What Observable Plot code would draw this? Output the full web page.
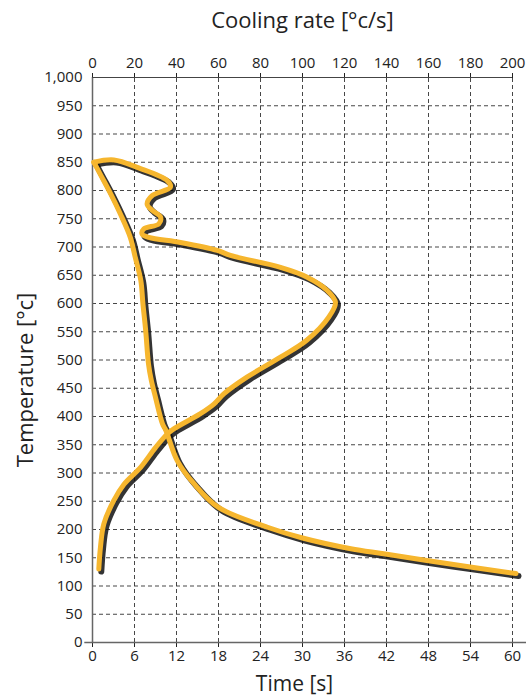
<!DOCTYPE html>
<html><head><meta charset="utf-8">
<script src="https://cdn.jsdelivr.net/npm/d3@7"></script>
<script src="https://cdn.jsdelivr.net/npm/@observablehq/plot@0.6"></script>
<style>
body{margin:0;background:#fff;font-family:"Open Sans",sans-serif;}
</style></head><body><div id="chart"></div>
<script>
const timeS    = [0.2,1.1,2.6,4.0,5.4,6.1,6.9,7.2,7.6,8.0,8.4,9.0,10.0,10.5,12.1,14.5,18,25,30,36.9,41.6,51.1,60.5];
const timeTemp = [850,829,794,758,717,682,641,600,552,493,464,434,387,375,322,281,239,204,185,166,157,139,122];
const coolRate = [0.6,10.2,22,35.5,37.1,28.4,26,28.4,32.4,31.6,24.4,23.6,26.8,41.9,59.4,65.7,89.5,102,111.8,115.7,112.5,102,89.5,73.7,62.5,57.8,51.4,38.7,35.6,30,22.9,15,10.1,5.4,3.8,3.0];
const coolTemp = [850,854,840,818,806,791,776,765,753,741,732,723,717,708,694,685,664,647,623,602,576,535,505,470,440,422,405,378,369,345,310,280,251,210,169,130];
const timeTicks = [0,6,12,18,24,30,36,42,48,54,60];
const rateTicks = [0,20,40,60,80,100,120,140,160,180,200];
const tempTicks = d3.range(0,1001,50);
const rateMax = 200, timeMax = 60;

const timeData = timeS.map((t,i)=>({x:t,y:timeTemp[i]}));
const coolData = coolRate.map((r,i)=>({x:r*timeMax/rateMax,y:coolTemp[i]}));
const yellow = "#F6B62E";
const plot = Plot.plot({
  width:526, height:699,
  marginLeft:92, marginRight:14, marginTop:77, marginBottom:57,
  style:{fontFamily:"Open Sans, sans-serif", fontSize:"15px", color:"#222", background:"#fff"},
  x:{domain:[0,60]},
  y:{domain:[0,1000]},
  marks:[
    Plot.gridX(timeTicks,{stroke:"#333",strokeOpacity:0.9,strokeDasharray:"4,3",y1:0,y2:1000}),
    Plot.gridY(tempTicks,{stroke:"#333",strokeOpacity:0.9,strokeDasharray:"4,3"}),
    Plot.axisX(timeTicks,{anchor:"bottom",tickSize:5,tickPadding:3,label:null,fontSize:15}),
    Plot.axisX(timeTicks,{anchor:"top",tickSize:5,tickPadding:5,label:null,fontSize:15,tickFormat:(d,i)=>String(rateTicks[i])}),
    Plot.axisY(tempTicks,{anchor:"left",tickSize:0,tickPadding:10,label:null,fontSize:15,tickFormat:d3.format(",")}),
    Plot.ruleX([0],{stroke:"#666",strokeWidth:1.5}),
    Plot.ruleY([0],{stroke:"#666",strokeWidth:1.5,x1:-1.1,x2:62}),
    Plot.ruleY([1000],{stroke:"#444",strokeWidth:1}),
    Plot.line(timeData,{x:"x",y:"y",curve:"catmull-rom",stroke:"#111",strokeWidth:6,dx:2.5,dy:2.5,strokeOpacity:0.85}),
    Plot.line(coolData,{x:"x",y:"y",curve:"catmull-rom",stroke:"#111",strokeWidth:6,dx:2.5,dy:2.5,strokeOpacity:0.85}),
    Plot.line(timeData,{x:"x",y:"y",curve:"catmull-rom",stroke:yellow,strokeWidth:5}),
    Plot.line(coolData,{x:"x",y:"y",curve:"catmull-rom",stroke:yellow,strokeWidth:5}),
    Plot.text(["Cooling rate [°c/s]"],{frameAnchor:"top",lineAnchor:"middle",dy:-57,fontSize:22,fill:"#222"}),
    Plot.text(["Time [s]"],{frameAnchor:"bottom",lineAnchor:"middle",dy:42,dx:-8,fontSize:21,fill:"#222"}),
    Plot.text(["Temperature [°c]"],{frameAnchor:"left",textAnchor:"middle",lineAnchor:"middle",dx:-67,dy:20,rotate:-90,fontSize:22,fill:"#222"})
  ]
});
document.getElementById("chart").append(plot);
</script></body></html>
